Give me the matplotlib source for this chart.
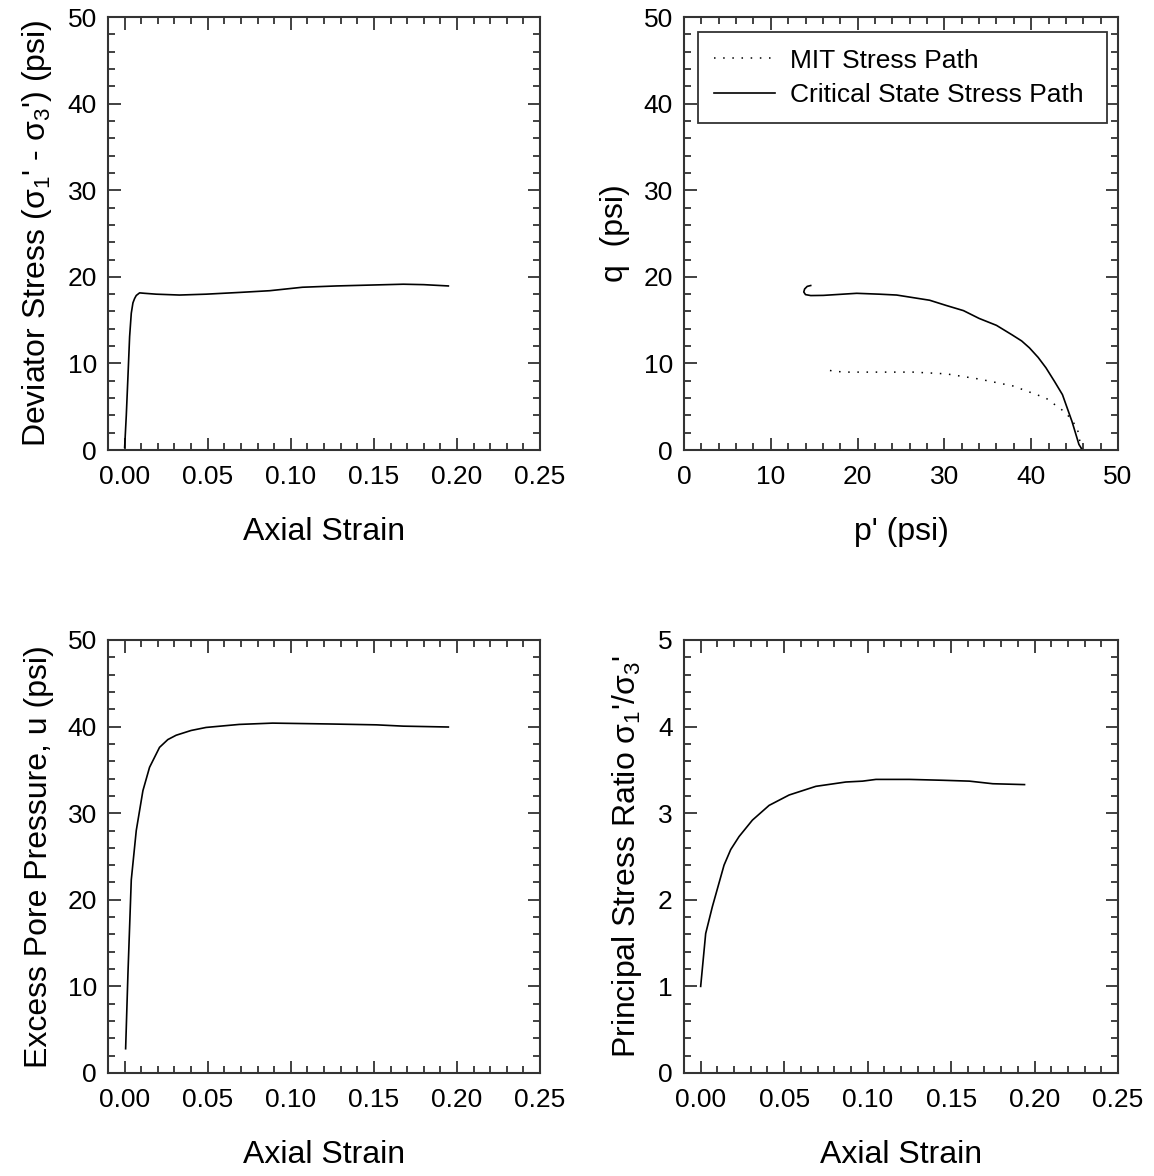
import matplotlib

matplotlib.use("Agg")

import matplotlib.pyplot as plt
from matplotlib.ticker import MultipleLocator

plt.rcParams["font.family"] = ["Liberation Sans", "DejaVu Sans"]
plt.rcParams["mathtext.default"] = "regular"

# deviator stress vs axial strain
strain_dev = [0.0, 0.001, 0.002, 0.003, 0.004, 0.005, 0.006, 0.007, 0.009, 0.012, 0.019,
              0.033, 0.049, 0.069, 0.0873, 0.107, 0.1275, 0.1476, 0.1677, 0.18, 0.1948]
deviator = [0.3, 4.0, 8.5, 13.1, 15.8, 17.0, 17.5, 17.85, 18.15, 18.1, 18.0,
            17.9, 18.0, 18.2, 18.4, 18.8, 18.95, 19.05, 19.15, 19.1, 18.95]

# stress paths (p', q)
p_mit = [45.8, 45.3, 44.0, 41.7, 37.9, 34.0, 30.2, 26.4, 22.5, 18.7, 17.2, 16.8, 17.4]
q_mit = [0.0, 2.6, 4.3, 6.0, 7.4, 8.2, 8.8, 9.0, 9.0, 9.0, 9.1, 9.2, 9.4]
p_cs = [45.9, 45.5, 44.7, 43.6, 42.7, 41.7, 40.8, 39.8, 38.9, 37.8, 36.0, 34.0, 32.2,
        30.2, 28.3, 26.4, 24.5, 22.5, 19.9, 16.05, 14.6, 14.0, 13.8, 13.9, 14.2, 14.6]
q_cs = [0.0, 0.65, 3.3, 6.4, 7.9, 9.5, 10.7, 11.8, 12.6, 13.3, 14.4, 15.2, 16.1,
        16.7, 17.3, 17.6, 17.9, 18.0, 18.1, 17.86, 17.84, 17.95, 18.25, 18.6, 18.9, 19.0]

# excess pore pressure vs axial strain
strain_u = [0.0006, 0.002, 0.004, 0.007, 0.011, 0.015, 0.021, 0.026, 0.031, 0.04, 0.049,
            0.069, 0.089, 0.1235, 0.1516, 0.1677, 0.1948]
pore = [2.8, 11.5, 22.3, 28.0, 32.6, 35.3, 37.6, 38.5, 39.0, 39.55, 39.9,
        40.25, 40.4, 40.3, 40.2, 40.05, 39.95]

# principal stress ratio vs axial strain
strain_r = [0.0, 0.003, 0.007, 0.014, 0.018, 0.023, 0.031, 0.041, 0.053, 0.069,
            0.087, 0.097, 0.105, 0.125, 0.145, 0.161, 0.175, 0.194]
ratio = [1.0, 1.61, 1.92, 2.4, 2.58, 2.73, 2.92, 3.09, 3.21, 3.31,
         3.36, 3.37, 3.39, 3.39, 3.38, 3.37, 3.34, 3.33]

AXIS_COLOR = "#333333"
TICK_SIZE = 19
LABEL_SIZE = 23


def style_axis(ax, xlim, xmajor, xminor, ylim, ymajor, yminor, xfmt=None):
    ax.xaxis.set_major_locator(MultipleLocator(xmajor))
    ax.xaxis.set_minor_locator(MultipleLocator(xminor))
    ax.yaxis.set_major_locator(MultipleLocator(ymajor))
    ax.yaxis.set_minor_locator(MultipleLocator(yminor))
    ax.set_xlim(*xlim)
    ax.set_ylim(*ylim)
    if xfmt:
        ax.xaxis.set_major_formatter(xfmt)
    ax.tick_params(which="both", direction="in", top=True, right=True,
                   color=AXIS_COLOR, width=1.3, labelsize=TICK_SIZE)
    ax.tick_params(axis="x", which="major", pad=11)
    ax.tick_params(axis="y", which="major", pad=8)
    ax.tick_params(which="major", length=9)
    ax.tick_params(which="minor", length=5)
    for spine in ax.spines.values():
        spine.set_color(AXIS_COLOR)
        spine.set_linewidth(1.5)


fig = plt.figure(figsize=(11.54, 11.76), dpi=100)
ax1 = fig.add_axes((0.0936, 0.6173, 0.3744, 0.3682))
ax2 = fig.add_axes((0.5927, 0.6173, 0.3761, 0.3682))
ax3 = fig.add_axes((0.0936, 0.0876, 0.3744, 0.3682))
ax4 = fig.add_axes((0.5927, 0.0876, 0.3761, 0.3682))

strain_fmt = "{x:.2f}"
strain_ticks = [0, 0.05, 0.10, 0.15, 0.20, 0.25]

ax1.plot(strain_dev, deviator, color="black", lw=1.2)
style_axis(ax1, (-0.01, 0.25), 0.05, 0.01, (0, 50), 10, 2, strain_fmt)
ax1.set_xticks(strain_ticks)
ax1.set_xlim(-0.01, 0.25)
ax1.set_xlabel("Axial Strain", fontsize=LABEL_SIZE, labelpad=20)
ax1.set_ylabel("Deviator Stress (σ$_1$' - σ$_3$') (psi)", fontsize=LABEL_SIZE, labelpad=10)

ax2.plot(p_mit, q_mit, color="black", lw=1.1, linestyle=(0, (1, 5)), label="MIT Stress Path")
ax2.plot(p_cs, q_cs, color="black", lw=1.2, label="Critical State Stress Path")
style_axis(ax2, (0, 50), 10, 2, (0, 50), 10, 2)
ax2.set_xlabel("p' (psi)", fontsize=LABEL_SIZE, labelpad=20)
ax2.set_ylabel("q  (psi)", fontsize=LABEL_SIZE, labelpad=10)
leg = ax2.legend(loc="upper left", bbox_to_anchor=(0.032, 0.745, 0.943, 0.22), mode="expand",
                 fontsize=19, handlelength=2.3, handletextpad=0.57, fancybox=False,
                 framealpha=1, borderpad=0.62, labelspacing=0.4, borderaxespad=0)
leg.get_frame().set_edgecolor(AXIS_COLOR)
leg.get_frame().set_linewidth(1.3)

ax3.plot(strain_u, pore, color="black", lw=1.2)
style_axis(ax3, (-0.01, 0.25), 0.05, 0.01, (0, 50), 10, 2, strain_fmt)
ax3.set_xticks(strain_ticks)
ax3.set_xlim(-0.01, 0.25)
ax3.set_xlabel("Axial Strain", fontsize=LABEL_SIZE, labelpad=20)
ax3.set_ylabel("Excess Pore Pressure, u (psi)", fontsize=LABEL_SIZE, labelpad=10)

ax4.plot(strain_r, ratio, color="black", lw=1.2)
style_axis(ax4, (-0.01, 0.25), 0.05, 0.01, (0, 5), 1, 0.2, strain_fmt)
ax4.set_xticks(strain_ticks)
ax4.set_xlim(-0.01, 0.25)
ax4.set_xlabel("Axial Strain", fontsize=LABEL_SIZE, labelpad=20)
ax4.set_ylabel("Principal Stress Ratio σ$_1$'/σ$_3$'", fontsize=LABEL_SIZE, labelpad=10)

fig.savefig("out.png", dpi=100)
